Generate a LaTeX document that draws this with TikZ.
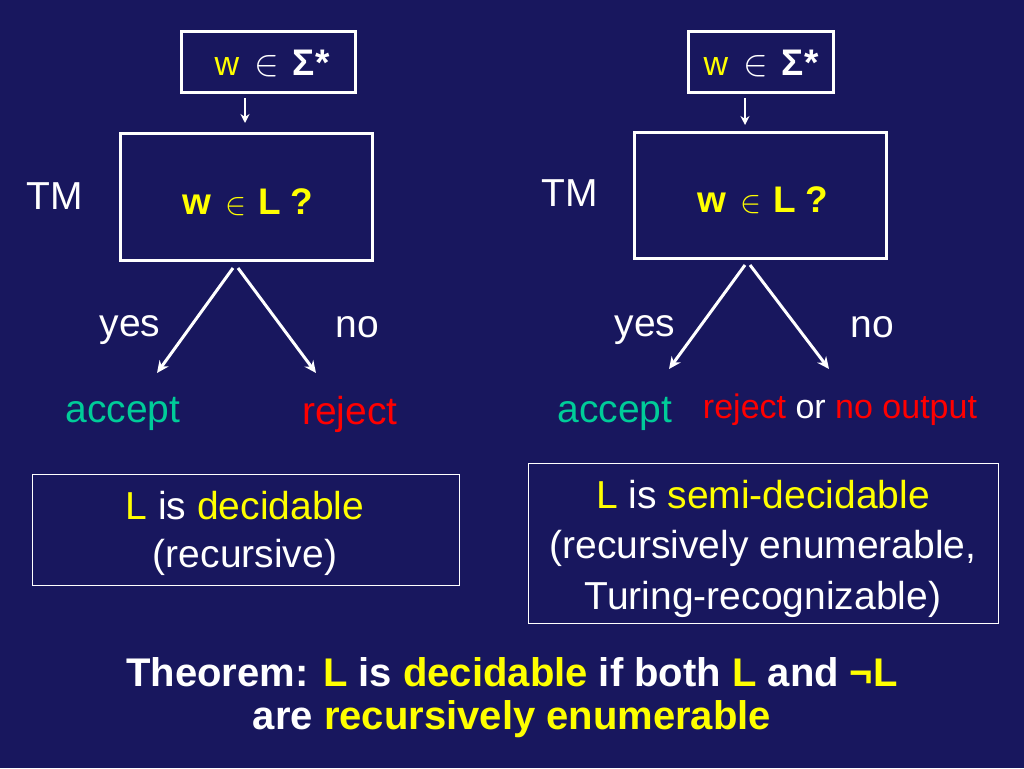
\documentclass[tikz,border=0pt]{standalone}
\usepackage{fontspec}
\usepackage{graphicx}
\setmainfont{Liberation Sans}
\usetikzlibrary{arrows.meta}
\definecolor{bg}{RGB}{24,23,94}
\definecolor{yel}{RGB}{255,255,0}
\definecolor{teal}{RGB}{0,204,153}
\definecolor{red}{RGB}{255,0,0}
\newcommand{\fs}[1]{\fontsize{#1}{#1}\selectfont}
\newcommand{\elem}[1]{\resizebox{!}{#1}{$\in$}}
\newcommand{\topin}{\textcolor{yel}{w}\hspace{15pt}\elem{20pt}\hspace{14pt}\textbf{\fontsize{37}{37}\selectfont Σ*}}
\newcommand{\tmq}{\textcolor{yel}{\textbf{w}\hspace{14pt}\elem{17pt}\hspace{12pt}\textbf{L}\hspace{9pt}\textbf{?}}}
\begin{document}
\begin{tikzpicture}[x=1pt,y=-1pt,
  box/.style={draw=white,line width=3pt,inner sep=0pt},
  thinbox/.style={draw=white,line width=1pt,inner sep=0pt},
  txt/.style={text=white,inner sep=0pt,font=\fs{39}},
  arr/.style={white,line width=3pt,-{Stealth[length=12pt,width=11pt]}},
  sarr/.style={white,line width=2.5pt,-{Stealth[length=9pt,width=9pt]}}]
\fill[bg] (0,0) rectangle (1024,768);
\useasboundingbox (0,0) rectangle (1024,768);
% ---- left
\node[box,minimum width=174pt,minimum height=60pt] (in1) at (268,62) {};
\node[txt,font=\fs{34},anchor=base] (in1t) at (272,75) {\topin};
\node[box,minimum width=252pt,minimum height=127pt] (tm1) at (246,196.5) {};
\node[txt,font=\fs{37},anchor=base] (tm1t) at (248,214) {\tmq};
\node[txt] (tm1l) at (55,196) {TM};
\coordinate (s1) at (245,98);
\coordinate (e1) at (245,123);
\draw[sarr] (s1) -- (e1);
\coordinate (o1) at (233,268);
\coordinate (o1b) at (238,268);
\node[txt] (yes1) at (130,330) {yes};
\node[txt] (no1) at (357,327) {no};
\node[txt,text=teal] (acc1) at (123,414) {accept};
\node[txt,text=red] (rej1) at (350,414) {reject};
\coordinate (a1) at (157,373);
\coordinate (r1) at (316,373);
\draw[arr] (o1) -- (a1);
\draw[arr] (o1b) -- (r1);
\node[thinbox,minimum width=427pt,minimum height=111pt] (d1) at (245.5,529.5) {};
\node[txt] (d1a) at (245,506) {\textcolor{yel}{L} is \textcolor{yel}{decidable}};
\node[txt] (d1b) at (245,557) {(recursive)};
% ---- right
\node[box,minimum width=145pt,minimum height=60pt] (in2) at (760.5,62) {};
\node[txt,font=\fs{34},anchor=base] (in2t) at (761,75) {\topin};
\node[box,minimum width=252pt,minimum height=126pt] (tm2) at (760,195) {};
\node[txt,font=\fs{37},anchor=base] (tm2t) at (763,212) {\tmq};
\node[txt] (tm2l) at (570,193) {TM};
\coordinate (s2) at (745,98);
\coordinate (e2) at (745,125);
\draw[sarr] (s2) -- (e2);
\coordinate (o2) at (745,265);
\coordinate (o2b) at (750,265);
\node[txt] (yes2) at (645,330) {yes};
\node[txt] (no2) at (872,327) {no};
\node[txt,text=teal] (acc2) at (615,414) {accept};
\node[txt,font=\fs{34}] (rej2) at (840,410) {\textcolor{red}{reject} or \textcolor{red}{no output}};
\coordinate (a2) at (669,369);
\coordinate (r2) at (829,369);
\draw[arr] (o2) -- (a2);
\draw[arr] (o2b) -- (r2);
\node[thinbox,minimum width=470pt,minimum height=160pt] (d2) at (763,543) {};
\node[txt] (d2a) at (763,495) {\textcolor{yel}{L} is \textcolor{yel}{semi-decidable}};
\node[txt] (d2b) at (763,548) {(recursively enumerable,};
\node[txt] (d2c) at (763,599) {Turing-recognizable)};
% ---- theorem
\node[txt,font=\bfseries\fs{40}] (th1) at (512,672) {Theorem: \textcolor{yel}{L} is \textcolor{yel}{decidable} if both \textcolor{yel}{L} and \textcolor{yel}{¬L}};
\node[txt,font=\bfseries\fs{40}] (th2) at (512,719) {are \textcolor{yel}{recursively enumerable}};
\end{tikzpicture}
\end{document}
